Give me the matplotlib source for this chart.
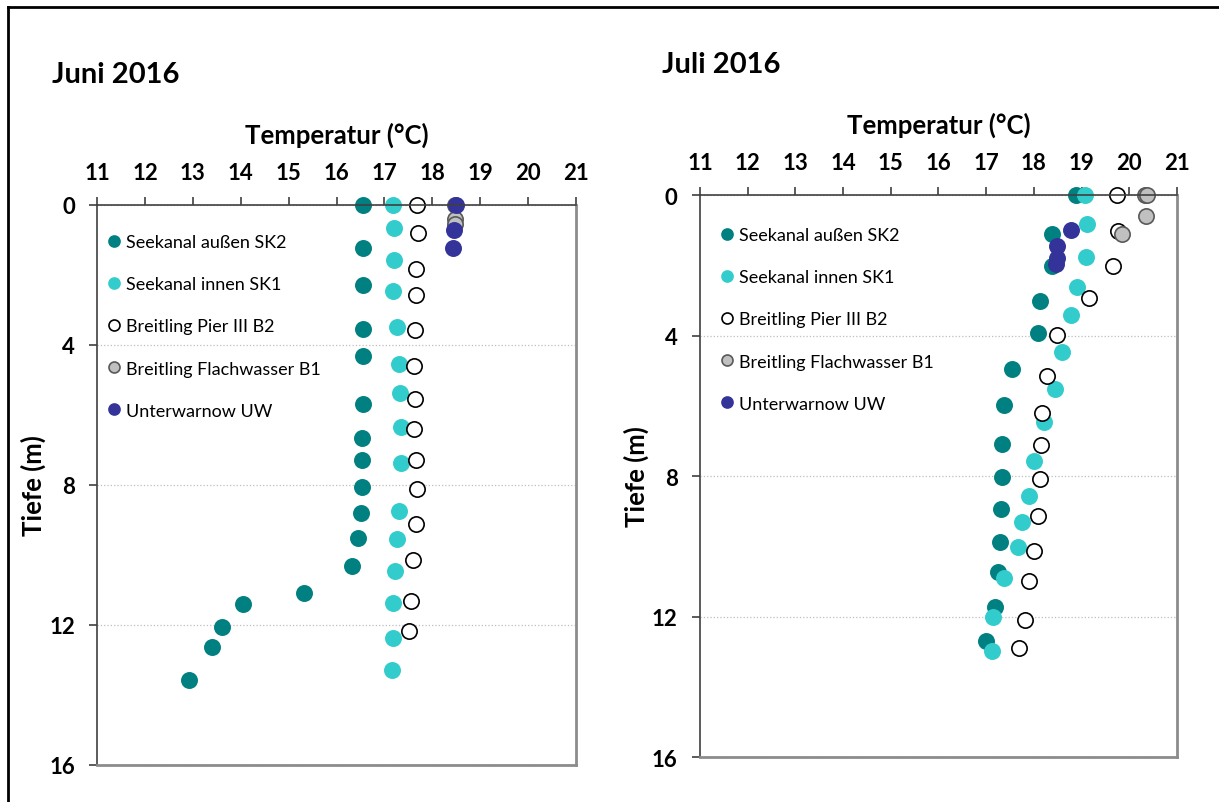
import matplotlib
matplotlib.use('Agg')
import matplotlib.pyplot as plt
from matplotlib.lines import Line2D

plt.rcParams['font.family'] = ['Lato', 'DejaVu Sans']

# series names (legend order = drawing order)
station_names = ['Seekanal außen SK2', 'Seekanal innen SK1', 'Breitling Pier III B2',
                 'Breitling Flachwasser B1', 'Unterwarnow UW']

# Juni 2016: temperature (°C) and depth (m)
sk2_jun_t = [16.55, 16.55, 16.55, 16.55, 16.55, 16.55, 16.53, 16.53, 16.53, 16.51, 16.45, 16.32, 15.32, 14.05, 13.61, 13.4, 12.92]
sk2_jun_d = [0, 1.23, 2.29, 3.54, 4.31, 5.69, 6.66, 7.29, 8.06, 8.8, 9.51, 10.31, 11.09, 11.4, 12.06, 12.63, 13.57]
sk1_jun_t = [17.18, 17.2, 17.2, 17.18, 17.26, 17.3, 17.33, 17.35, 17.35, 17.3, 17.26, 17.22, 17.18, 17.18, 17.16]
sk1_jun_d = [0, 0.66, 1.57, 2.46, 3.49, 4.54, 5.37, 6.34, 7.37, 8.74, 9.54, 10.46, 11.37, 12.37, 13.29]
b2_jun_t = [17.68, 17.7, 17.66, 17.66, 17.64, 17.62, 17.64, 17.62, 17.66, 17.68, 17.66, 17.6, 17.56, 17.51]
b2_jun_d = [0, 0.8, 1.83, 2.57, 3.57, 4.6, 5.54, 6.4, 7.29, 8.11, 9.11, 10.14, 11.31, 12.17]
b1_jun_t = [18.47, 18.47, 18.47]
b1_jun_d = [0, 0.4, 0.55]
uw_jun_t = [18.49, 18.45, 18.43]
uw_jun_d = [0, 0.71, 1.23]

# Juli 2016
sk2_jul_t = [18.88, 18.38, 18.38, 18.13, 18.09, 17.54, 17.37, 17.33, 17.33, 17.31, 17.29, 17.25, 17.18, 17.0]
sk2_jul_d = [0, 1.11, 2.02, 3.02, 3.93, 4.96, 5.98, 7.09, 8.03, 8.95, 9.89, 10.74, 11.74, 12.71]
sk1_jul_t = [19.07, 19.11, 19.09, 18.9, 18.78, 18.59, 18.44, 18.21, 18.0, 17.9, 17.75, 17.67, 17.37, 17.14, 17.12]
sk1_jul_d = [0, 0.83, 1.77, 2.62, 3.42, 4.47, 5.53, 6.47, 7.58, 8.58, 9.32, 10.03, 10.91, 12.02, 12.99]
b2_jul_t = [19.74, 19.76, 19.66, 19.16, 18.48, 18.27, 18.17, 18.15, 18.13, 18.09, 18.0, 17.9, 17.81, 17.69]
b2_jul_d = [0, 1.03, 2.02, 2.93, 3.99, 5.16, 6.21, 7.12, 8.09, 9.15, 10.14, 11.0, 12.11, 12.91]
b1_jul_t = [20.33, 20.37, 20.35, 19.85]
b1_jul_d = [0, 0, 0.6, 1.11]
uw_jul_t = [18.78, 18.48, 18.48, 18.46]
uw_jul_d = [1.0, 1.45, 1.79, 1.97]

temp_ticks = list(range(11, 22))
depth_ticks = [0, 4, 8, 12, 16]

# marker styles: (face, edge)
styles = [('#008080', '#008080'), ('#33CCCC', '#33CCCC'), ('white', 'black'),
          ('#C0C0C0', '#595959'), ('#333399', '#333399')]


def draw_profile(ax, temps, depths, legend_anchor):
    for t, d, name, (fc, ec) in zip(temps, depths, station_names, styles):
        ax.plot(t, d, linestyle='none', marker='o', markersize=11,
                markerfacecolor=fc, markeredgecolor=ec, markeredgewidth=1.2,
                label=name, clip_on=False)

    ax.set_xlim(11, 21)
    ax.set_ylim(16, 0)
    ax.set_xticks(temp_ticks)
    ax.set_yticks(depth_ticks)
    ax.xaxis.tick_top()
    ax.xaxis.set_label_position('top')
    ax.tick_params(axis='both', direction='out', length=6, width=1.2, colors='#404040',
                   labelcolor='black', labelsize=16, pad=10)
    for lab in ax.get_xticklabels() + ax.get_yticklabels():
        lab.set_fontweight('bold')

    ax.set_xlabel('Temperatur (°C)', fontsize=18.5, fontweight='bold', labelpad=14)
    ax.set_ylabel('Tiefe (m)', fontsize=18.5, fontweight='bold', labelpad=2)

    ax.grid(axis='y', color='#BFBFBF', linestyle=':', linewidth=0.9)
    ax.set_axisbelow(True)

    for side in ['top', 'left']:
        ax.spines[side].set_color('#404040')
        ax.spines[side].set_linewidth(1.2)
    for side in ['bottom', 'right']:
        ax.spines[side].set_color('#8C8C8C')
        ax.spines[side].set_linewidth(2)

    ax.legend(loc='upper left', bbox_to_anchor=legend_anchor, frameon=False,
              fontsize=13, markerscale=0.72, handlelength=0.8, handletextpad=0.25,
              labelspacing=1.45, borderpad=0, borderaxespad=0)


fig = plt.figure(figsize=(12.19, 8.03), dpi=100)
ax1 = fig.add_axes([0.0796, 0.0461, 0.3929, 0.6974])
ax2 = fig.add_axes([0.5742, 0.0560, 0.3913, 0.6999])

draw_profile(ax1, [sk2_jun_t, sk1_jun_t, b2_jun_t, b1_jun_t, uw_jun_t],
             [sk2_jun_d, sk1_jun_d, b2_jun_d, b1_jun_d, uw_jun_d], (0.021, 0.948))
draw_profile(ax2, [sk2_jul_t, sk1_jul_t, b2_jul_t, b1_jul_t, uw_jul_t],
             [sk2_jul_d, sk1_jul_d, b2_jul_d, b1_jul_d, uw_jul_d], (0.042, 0.943))

fig.text(52 / 1219, 1 - 75 / 803, 'Juni 2016', fontsize=21, fontweight='bold', va='center')
fig.text(662 / 1219, 1 - 65 / 803, 'Juli 2016', fontsize=21, fontweight='bold', va='center')

# outer frame (left and top edges visible in the original)
fig.add_artist(Line2D([8 / 1219, 8 / 1219], [0, 1 - 8 / 803], color='black', linewidth=2))
fig.add_artist(Line2D([8 / 1219, 1], [1 - 8 / 803, 1 - 8 / 803], color='black', linewidth=2))

fig.savefig('out.png', dpi=100)
